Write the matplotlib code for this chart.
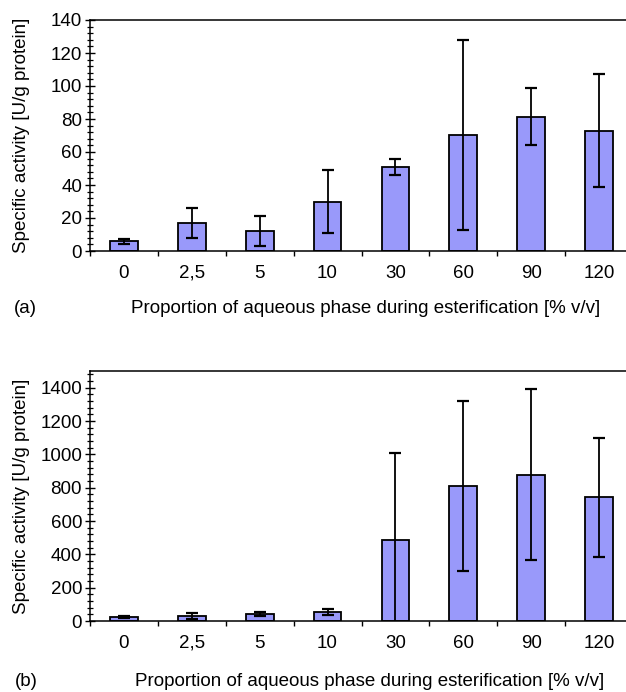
import numpy as np
import matplotlib
matplotlib.use('Agg')
import matplotlib.pyplot as plt
from matplotlib.ticker import MultipleLocator, FixedLocator, NullFormatter

plt.rcParams['font.family'] = ['Liberation Sans', 'DejaVu Sans']

# aqueous phase proportion [% v/v]
labels = ['0', '2,5', '5', '10', '30', '60', '90', '120']

# panel (a)
act_a = [6, 17, 12, 30, 51, 70.5, 81.5, 73]
err_a = [1.5, 9, 9, 19, 5, 57.5, 17, 34]

# panel (b)
act_b = [25, 30, 44, 56, 489, 811, 879, 743]
err_b = [5, 17, 13, 18, 517, 510, 515, 358]

bar_color = '#9999fa'
fs = 13.5
W, H = 626, 692

fig = plt.figure(figsize=(W / 100, H / 100), dpi=100)


def panel(rect, vals, errs, ymax, major, minor):
    ax = fig.add_axes(rect)
    x = np.arange(len(labels))
    ax.bar(x, vals, width=0.41, color=bar_color, edgecolor='black', linewidth=1.3, zorder=2)
    ax.errorbar(x, vals, yerr=errs, fmt='none', ecolor='black', elinewidth=1.3,
                capsize=4, capthick=1.6, zorder=3)
    ax.set_xlim(-0.5, 7.5)
    ax.set_ylim(0, ymax)
    ax.spines['right'].set_visible(False)
    for s in ['left', 'bottom', 'top']:
        ax.spines[s].set_linewidth(1.1)
    # category boundaries as ticks, labels in the middle
    ax.xaxis.set_major_locator(FixedLocator(np.arange(-0.5, 8, 1.0)))
    ax.xaxis.set_major_formatter(NullFormatter())
    ax.set_xticks(x, labels, minor=True)
    ax.tick_params(axis='x', which='major', direction='out', length=3.5, width=1)
    ax.tick_params(axis='x', which='minor', length=0, pad=10, labelsize=fs)
    ax.yaxis.set_major_locator(MultipleLocator(major))
    ax.yaxis.set_minor_locator(MultipleLocator(minor))
    ax.tick_params(axis='y', which='major', direction='inout', length=7.5, width=1, pad=2, labelsize=fs)
    ax.tick_params(axis='y', which='minor', direction='inout', length=4, width=0.9)
    return ax


left = 90 / W
right_px = 633
ax_a = panel([left, 1 - 251 / H, (right_px - 90) / W, (251 - 20) / H],
             act_a, err_a, 140, 20, 4)
ax_b = panel([left, 1 - 621 / H, (right_px - 90) / W, (621 - 371) / H],
             act_b, err_b, 1500, 200, 40)

ylab = 'Specific activity [U/g protein]'
xlab = 'Proportion of aqueous phase during esterification [% v/v]'
fig.text(22 / W, 1 - 135.5 / H, ylab, rotation=90, ha='center', va='center', fontsize=fs)
fig.text(22 / W, 1 - 496 / H, ylab, rotation=90, ha='center', va='center', fontsize=fs)
fig.text(366 / W, 1 - 308 / H, xlab, ha='center', va='center', fontsize=fs)
fig.text(370 / W, 1 - 682 / H, xlab, ha='center', va='center', fontsize=fs)
fig.text(14 / W, 1 - 308 / H, '(a)', ha='left', va='center', fontsize=fs)
fig.text(15 / W, 1 - 682 / H, '(b)', ha='left', va='center', fontsize=fs)

fig.savefig('out.png', dpi=100)
